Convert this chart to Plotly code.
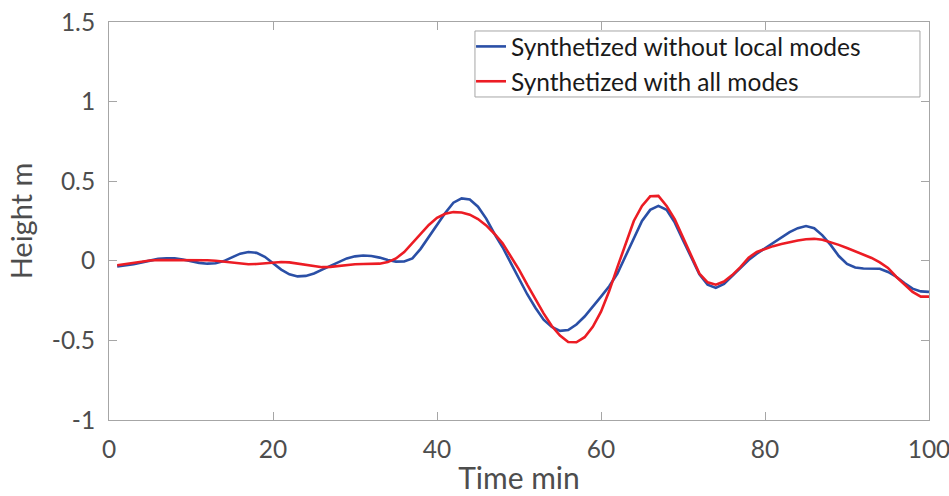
import plotly.graph_objects as go

time_min = list(range(1, 101))

without_local = [
    -0.035, -0.030, -0.022, -0.010, 0.002, 0.012, 0.016, 0.015, 0.008, -0.003,
    -0.013, -0.018, -0.015, -0.002, 0.022, 0.045, 0.055, 0.050, 0.025, -0.015,
    -0.055, -0.085, -0.098, -0.095, -0.080, -0.055, -0.030, -0.005, 0.015, 0.028,
    0.033, 0.030, 0.020, 0.005, -0.005, -0.004, 0.015, 0.075, 0.150, 0.220,
    0.300, 0.365, 0.392, 0.385, 0.340, 0.265, 0.170, 0.085, -0.015, -0.115,
    -0.210, -0.295, -0.370, -0.415, -0.440, -0.435, -0.400, -0.350, -0.290, -0.225,
    -0.160, -0.080, 0.030, 0.140, 0.250, 0.320, 0.345, 0.320, 0.240, 0.130,
    0.020, -0.085, -0.150, -0.170, -0.145, -0.095, -0.045, 0.005, 0.045, 0.080,
    0.115, 0.150, 0.180, 0.205, 0.218, 0.205, 0.160, 0.100, 0.030, -0.020,
    -0.042, -0.048, -0.048, -0.050, -0.070, -0.100, -0.140, -0.175, -0.192, -0.195,
]

with_all = [
    -0.028, -0.020, -0.012, -0.004, 0.002, 0.005, 0.005, 0.004, 0.003, 0.002,
    0.003, 0.003, 0.000, -0.006, -0.013, -0.020, -0.022, -0.020, -0.015, -0.010,
    -0.008, -0.010, -0.018, -0.028, -0.036, -0.040, -0.038, -0.032, -0.026, -0.022,
    -0.020, -0.020, -0.018, -0.008, 0.015, 0.055, 0.110, 0.170, 0.225, 0.270,
    0.295, 0.306, 0.303, 0.290, 0.262, 0.222, 0.170, 0.110, 0.030, -0.055,
    -0.150, -0.240, -0.330, -0.410, -0.470, -0.510, -0.512, -0.480, -0.415, -0.320,
    -0.190, -0.040, 0.110, 0.250, 0.345, 0.405, 0.408, 0.345, 0.260, 0.150,
    0.030, -0.080, -0.135, -0.150, -0.130, -0.090, -0.040, 0.020, 0.055, 0.075,
    0.092, 0.105, 0.117, 0.128, 0.135, 0.138, 0.132, 0.118, 0.100, 0.080,
    0.060, 0.040, 0.018, -0.010, -0.045, -0.100, -0.150, -0.195, -0.225, -0.225,
]

series_names = ["Synthetized without local modes", "Synthetized with all modes"]
x_ticks = [0, 20, 40, 60, 80, 100]
y_ticks = [-1, -0.5, 0, 0.5, 1, 1.5]
y_tick_text = ["-1", "-0.5", "0", "0.5", "1", "1.5"]

FONT = "Lato"

fig = go.Figure()
fig.add_trace(go.Scatter(x=time_min, y=without_local, mode="lines", name=series_names[0],
                         line=dict(color="#2a4fa6", width=2.6)))
fig.add_trace(go.Scatter(x=time_min, y=with_all, mode="lines", name=series_names[1],
                         line=dict(color="#ec1c24", width=2.6)))

axis_common = dict(
    showline=True, linecolor="#a6a6a6", linewidth=1, mirror="ticks",
    ticks="inside", ticklen=8, tickcolor="#a6a6a6", tickwidth=1,
    showgrid=False, zeroline=False, automargin=False,
    ticklabeloverflow="allow",
    tickfont=dict(family=FONT, size=24.5, color="#4d4d4d"),
)

# legend frame (MATLAB-style box with extra right padding)
fig.add_shape(type="rect", xref="paper", yref="paper",
              x0=0.4463, x1=0.989, y0=0.8116, y1=0.9774,
              line=dict(color="#a6a6a6", width=1), fillcolor="white", layer="above")

fig.update_layout(
    width=949, height=496,
    margin=dict(l=109, r=20, t=22, b=76),
    paper_bgcolor="white", plot_bgcolor="white",
    font=dict(family=FONT),
    xaxis=dict(range=[0, 100], tickvals=x_ticks,
               ticklabelstandoff=8,
               title=dict(text="Time min", font=dict(family=FONT, size=30, color="#4d4d4d"), standoff=5),
               **axis_common),
    yaxis=dict(range=[-1, 1.5], tickvals=y_ticks, ticktext=y_tick_text,
               title=dict(text="Height m", font=dict(family=FONT, size=29, color="#4d4d4d"), standoff=10),
               ticklabelstandoff=8,
               **axis_common),
    legend=dict(x=0.4415, y=0.995, xanchor="left", yanchor="top",
                bgcolor="rgba(0,0,0,0)", borderwidth=0,
                font=dict(family=FONT, size=24.5, color="#1a1a1a"),
                tracegroupgap=0, itemwidth=30),
    showlegend=True,
)

fig.write_html("out.html")
